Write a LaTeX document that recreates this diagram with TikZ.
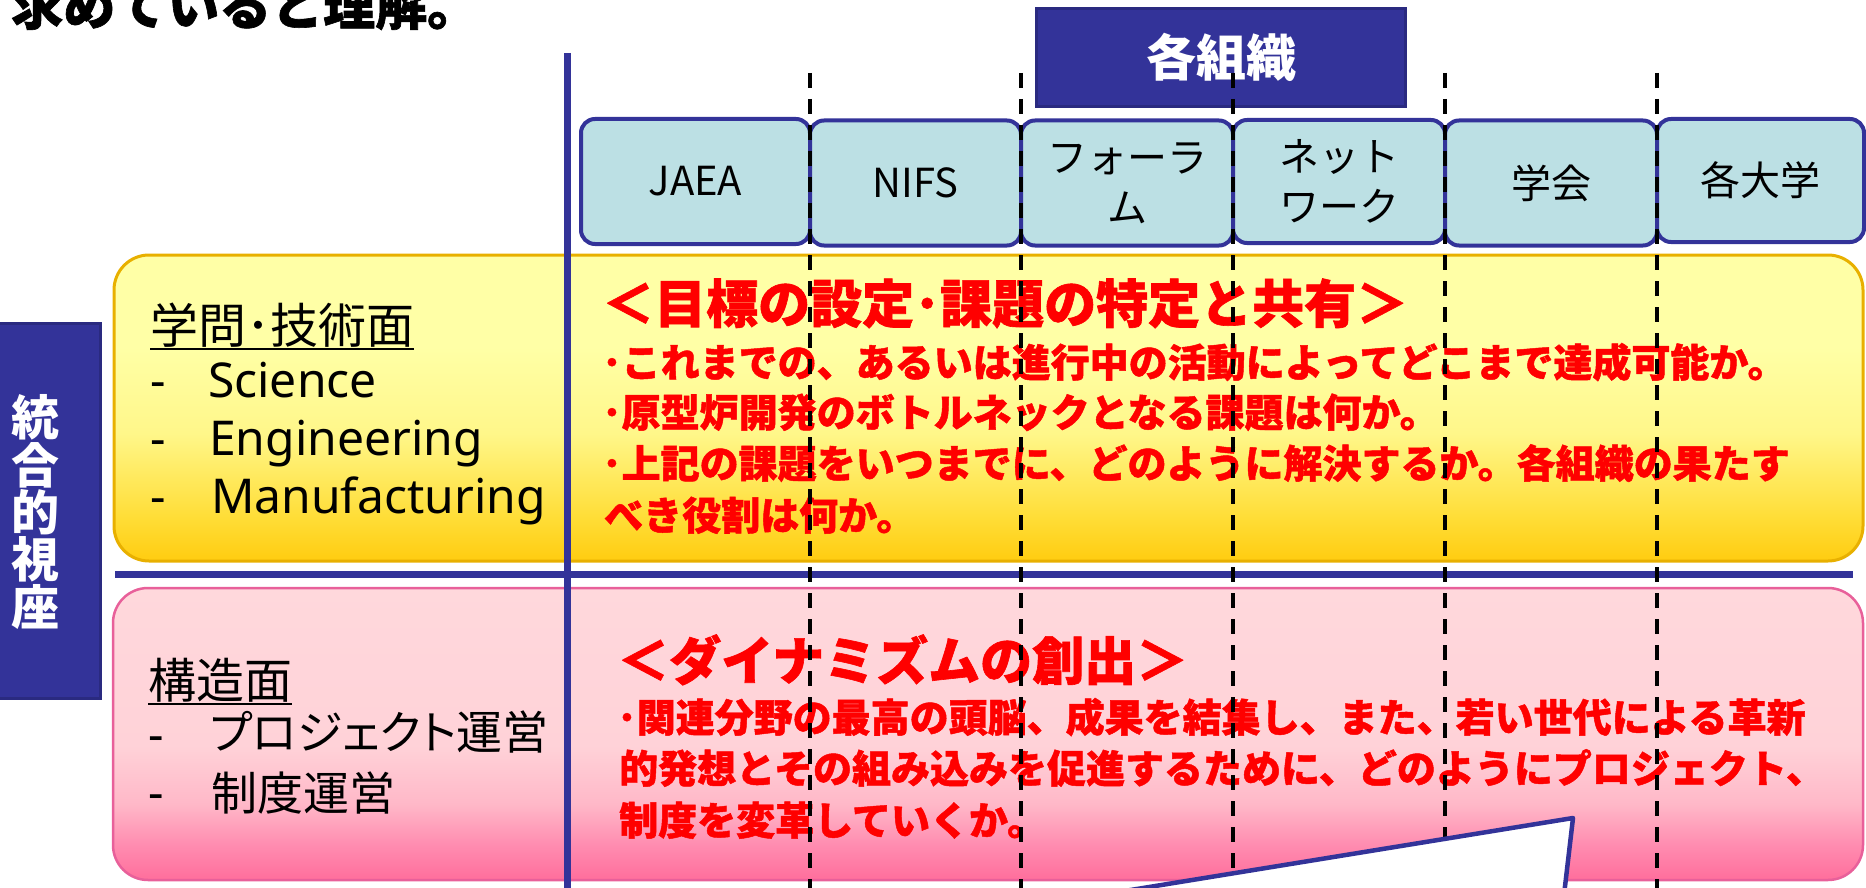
\documentclass[tikz,border=0pt]{standalone}
\usepackage{fontspec}
\setmainfont{Noto Sans CJK JP}
\newfontfamily\jp{Noto Sans CJK JP}
\newfontfamily\jpheavy[BoldFeatures={FakeBold=1.2}]{Noto Sans CJK JP}
\newfontfamily\jpp[RawFeature=+palt]{Noto Sans CJK JP}
\newfontfamily\lat{Noto Sans}
\usetikzlibrary{calc}
\definecolor{navy}{HTML}{333399}
\definecolor{navydark}{HTML}{2A2A80}
\definecolor{orgfill}{HTML}{BCE0E4}
\definecolor{ybot}{HTML}{FFCC10}
\definecolor{ymidA}{HTML}{FFDD36}
\definecolor{ymidB}{HTML}{FFF78A}
\definecolor{ytop}{HTML}{FFFFA6}
\definecolor{yborder}{HTML}{E8B000}
\definecolor{pbot}{HTML}{FF6E9C}
\definecolor{pmidA}{HTML}{FF8CB0}
\definecolor{pmidB}{HTML}{FFB8C8}
\definecolor{pmidC}{HTML}{FFD2D8}
\definecolor{ptop}{HTML}{FFD8DC}
\definecolor{pborder}{HTML}{E8609A}
\definecolor{redtxt}{HTML}{FF0000}
\pgfdeclareverticalshading{yshade}{100bp}{color(0bp)=(ybot); color(25bp)=(ybot); color(32bp)=(ymidA); color(46bp)=(ymidB); color(60bp)=(ytop); color(100bp)=(ytop)}
\pgfdeclareverticalshading{pshade}{100bp}{color(0bp)=(pbot); color(25bp)=(pbot); color(31bp)=(pmidA); color(38bp)=(pmidB); color(48bp)=(pmidC); color(75bp)=(ptop); color(100bp)=(ptop)}
\tikzset{
  orgbox/.style={draw=navy, line width=4pt, fill=orgfill, rounded corners=14pt, inner sep=0pt,
    align=center, font=\jp\fontsize{40}{50}\selectfont},
  redhead/.style={anchor=base west, inner sep=0pt, text=redtxt, font=\jpheavy\bfseries\fontsize{52}{52}\selectfont},
  redline/.style={anchor=base west, inner sep=0pt, text=redtxt, font=\jpheavy\bfseries\fontsize{39}{39}\selectfont},
  lefthead/.style={anchor=base west, inner sep=0pt, font=\jpp\fontsize{48}{48}\selectfont},
  leftjp/.style={anchor=base west, inner sep=0pt, font=\jpp\fontsize{46}{46}\selectfont},
  leftlat/.style={anchor=base west, inner sep=0pt, font=\lat\fontsize{48}{48}\selectfont},
  dashline/.style={black, line width=4pt, dash pattern=on 15pt off 11pt},
  navyline/.style={navy, line width=7pt},
}
\begin{document}
\begin{tikzpicture}[x=1pt,y=-1pt]
\useasboundingbox (0,0) rectangle (1866,888);
% top text (cropped at the upper edge, as in the reference)
\node[anchor=base west, inner sep=0pt, font=\jpheavy\bfseries\fontsize{52}{52}\selectfont] (toptext) at (11,25) {求めていると理解。};
% header box
\node[fill=navy, draw=navydark, line width=3pt, minimum width=369pt, minimum height=98pt, inner sep=0pt,
  text=white, font=\jp\bfseries\fontsize{50}{50}\selectfont] (org) at (1221,57.5) {各組織};
% organisation boxes
\node[orgbox, minimum width=229pt, minimum height=125pt] (jaea) at (695.5,181.5) {JAEA};
\node[orgbox, minimum width=211pt, minimum height=125pt] (nifs) at (915.5,183) {NIFS};
\node[orgbox, minimum width=212pt, minimum height=125pt] (forum) at (1127,183) {フォーラ\\ム};
\node[orgbox, minimum width=212pt, minimum height=123pt] (net) at (1339,181.5) {ネット\\ワーク};
\node[orgbox, minimum width=212pt, minimum height=125pt] (gakkai) at (1551,183) {学会};
\node[orgbox, minimum width=207pt, minimum height=123pt] (univ) at (1760.5,180.5) {各大学};
% left vertical box
\fill[navy] (-5,323) rectangle (102,700);
\draw[navydark, line width=3pt] (-5,323) -- (100.5,323) -- (100.5,698.5) -- (-5,698.5);
\node[inner sep=0pt, text=white, align=center, font=\jp\bfseries\fontsize{48}{47.3}\selectfont] (tougou) at (36,512) {統\\合\\的\\視\\座};
% yellow box
\shade[shading=yshade, rounded corners=35pt] (114,255) rectangle (1863,561);
\draw[yborder, line width=3pt, rounded corners=35pt] (114,255) rectangle (1863,561);
% pink box
\shade[shading=pshade, rounded corners=35pt] (113,588) rectangle (1863,880);
\draw[pborder, line width=2.5pt, rounded corners=35pt] (113,588) rectangle (1863,880);
% horizontal and vertical navy lines
\draw[navyline] (115,574) -- (1853,574);
\draw[navyline] (567,53) -- (567,888);
% left texts (yellow)
\node[lefthead] (gakumon) at (150,343) {学問･技術面};
\draw[line width=2pt] ($(gakumon.base west)+(0,6)$) -- ($(gakumon.base east)+(0,6)$);
\node[leftlat] (d1) at (150,397) {-};
\node[leftlat] (sci) at (208,397) {Science};
\node[leftlat] (d2) at (150,455) {-};
\node[leftlat] (eng) at (209,455) {Engineering};
\node[leftlat] (d3) at (150,513) {-};
\node[leftlat] (manu) at (211,513) {Manufacturing};
% left texts (pink)
\node[lefthead] (kouzou) at (148,698) {構造面};
\draw[line width=2pt] ($(kouzou.base west)+(0,6)$) -- ($(kouzou.base east)+(0,6)$);
\node[leftlat] (d4) at (148,751) {-};
\node[leftjp] (proj) at (210,749) {プロジェクト運営};
\node[leftlat] (d5) at (148,809) {-};
\node[leftjp] (seido) at (211,810) {制度運営};
% red texts (yellow)
\node[redhead] (yh) at (602,323) {＜目標の設定･課題の特定と共有＞};
\node[redline] (y1) at (602,377) {･これまでの、あるいは進行中の活動によってどこまで達成可能か。};
\node[redline] (y2) at (602,427) {･原型炉開発のボトルネックとなる課題は何か。};
\node[redline] (y3) at (602,478) {･上記の課題をいつまでに、どのように解決するか。各組織の果たす};
\node[redline] (y4) at (604,530) {べき役割は何か。};
% red texts (pink)
\node[redhead] (ph) at (617,680) {＜ダイナミズムの創出＞};
\node[redline] (p1) at (617,732) {･関連分野の最高の頭脳、成果を結集し、また、若い世代による革新};
\node[redline] (p2) at (619,783) {的発想とその組み込みを促進するために、どのようにプロジェクト、};
\node[redline] (p3) at (619,835) {制度を変革していくか。};
% dashed separators
\foreach \x in {810,1021,1233,1445,1657} {
  \coordinate (dtop\x) at (\x,73);
  \coordinate (dbot\x) at (\x,888);
  \draw[dashline] (dtop\x) -- (dbot\x);
}
% callout
\coordinate (cl) at (1100,895);
\coordinate (ctip) at (1573,818);
\coordinate (cr) at (1564,895);
\draw[navy, line width=4.5pt, fill=white, line join=round] (cl) -- (ctip) -- (cr);
\end{tikzpicture}
\end{document}
